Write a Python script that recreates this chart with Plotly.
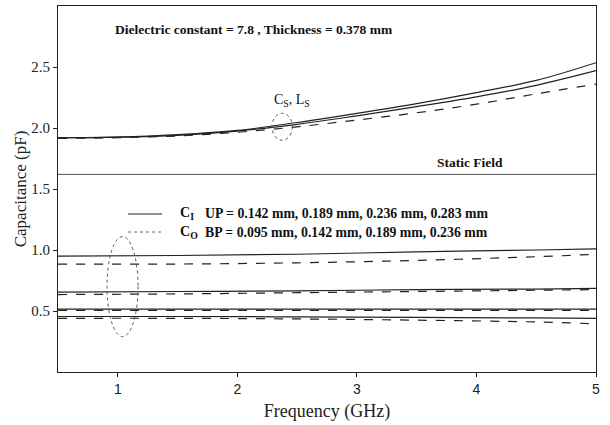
import plotly.graph_objects as go

# ---- data ----
freq_s = [0.5, 1.0, 1.5, 2.0, 2.5, 3.0, 3.5, 4.0, 4.5, 5.0]
cs_solid_1 = [1.92, 1.925, 1.945, 1.98, 2.045, 2.12, 2.20, 2.29, 2.39, 2.535]
cs_solid_2 = [1.92, 1.925, 1.94, 1.975, 2.03, 2.10, 2.175, 2.255, 2.35, 2.47]
cs_dashed = [1.915, 1.92, 1.935, 1.965, 2.01, 2.065, 2.125, 2.195, 2.28, 2.36]

freq_c = [0.5, 1.5, 2.5, 3.5, 4.5, 5.0]
ci_up_0142 = [0.95, 0.955, 0.965, 0.985, 1.0, 1.01]
ci_up_0189 = [0.655, 0.66, 0.665, 0.675, 0.68, 0.685]
ci_up_0236 = [0.515, 0.515, 0.515, 0.515, 0.515, 0.515]
ci_up_0283 = [0.455, 0.455, 0.452, 0.448, 0.443, 0.44]
co_bp_0095 = [0.885, 0.885, 0.895, 0.915, 0.945, 0.965]
co_bp_0142 = [0.635, 0.64, 0.65, 0.66, 0.67, 0.675]
co_bp_0189 = [0.505, 0.505, 0.505, 0.505, 0.505, 0.505]
co_bp_0236 = [0.44, 0.44, 0.435, 0.425, 0.41, 0.395]

static_field = 1.62
x_ticks = [1, 2, 3, 4, 5]
y_ticks = [0.5, 1.0, 1.5, 2.0, 2.5]

INK = "#222222"
SERIF = "Liberation Serif"

fig = go.Figure()

def add(x, y, dash):
    fig.add_trace(go.Scatter(x=x, y=y, mode="lines", showlegend=False,
                             line=dict(color=INK, width=1.2, dash=dash, shape="spline")))

add(freq_s, cs_solid_1, "solid")
add(freq_s, cs_solid_2, "solid")
add(freq_s, cs_dashed, "dash")
for s in [ci_up_0142, ci_up_0189, ci_up_0236, ci_up_0283]:
    add(freq_c, s, "solid")
for s in [co_bp_0095, co_bp_0142, co_bp_0189, co_bp_0236]:
    add(freq_c, s, "dash")

# static field separator
fig.add_shape(type="line", xref="paper", x0=0, x1=1, yref="y", y0=static_field, y1=static_field,
              line=dict(color="#555555", width=1))

# ellipses
fig.add_shape(type="circle", xref="x", yref="y", x0=2.29, x1=2.46, y0=1.90, y1=2.12,
              line=dict(color="#555555", width=1, dash="dot"))
fig.add_shape(type="circle", xref="x", yref="y", x0=0.91, x1=1.17, y0=0.29, y1=1.11,
              line=dict(color="#555555", width=1, dash="dot"))

# legend samples (paper coords)
def px_x(p):
    return (p - 58) / (596 - 58)

def px_y(p):
    return 1 - (p - 6) / (372 - 6)

fig.add_shape(type="line", xref="paper", yref="paper", x0=px_x(128), x1=px_x(162),
              y0=px_y(214), y1=px_y(214), line=dict(color=INK, width=1))
fig.add_shape(type="line", xref="paper", yref="paper", x0=px_x(128), x1=px_x(162),
              y0=px_y(232), y1=px_y(232), line=dict(color="#666666", width=1, dash="dot"))

def ann(text, x, y, size=13, bold=True, xanchor="left"):
    fig.add_annotation(text=("<b>%s</b>" % text) if bold else text, xref="paper", yref="paper",
                       x=px_x(x), y=px_y(y), xanchor=xanchor, yanchor="middle", showarrow=False,
                       font=dict(family=SERIF, size=size, color="#111111"))

ann("Dielectric constant = 7.8 , Thickness = 0.378 mm", 113, 30, size=13.5)
ann("Static Field", 470, 162, size=13.5, xanchor="center")
ann("C<sub>S</sub>, L<sub>S</sub>", 292, 100, size=14, bold=False, xanchor="center")
ann("C<sub>I</sub>", 178, 213, size=14)
ann("UP = 0.142 mm, 0.189 mm, 0.236 mm, 0.283 mm", 203, 213, size=13.8)
ann("C<sub>O</sub>", 178, 232, size=14)
ann("BP = 0.095 mm, 0.142 mm, 0.189 mm, 0.236 mm", 203, 232, size=13.8)

fig.update_layout(
    width=610, height=425,
    margin=dict(l=58, r=14, t=6, b=53),
    paper_bgcolor="white", plot_bgcolor="white",
    showlegend=False,
    xaxis=dict(range=[0.5, 5], tickvals=x_ticks, ticks="outside", ticklen=4, tickcolor=INK,
               showgrid=False, zeroline=False, showline=True, linecolor=INK, linewidth=1, mirror=True,
               tickfont=dict(family="Liberation Sans", size=14, color="#222222"),
               title=dict(text="Frequency (GHz)", font=dict(family=SERIF, size=18, color="#222222"),
                          standoff=8)),
    yaxis=dict(range=[0, 3], tickvals=y_ticks, ticktext=["0.5", "1.0", "1.5", "2.0", "2.5"],
               ticks="outside", ticklen=4, tickcolor=INK,
               showgrid=False, zeroline=False, showline=True, linecolor=INK, linewidth=1, mirror=True,
               tickfont=dict(family=SERIF, size=15, color="#222222"),
               title=dict(text="Capacitance (pF)", font=dict(family=SERIF, size=17, color="#222222"),
                          standoff=0)),
)

fig.write_html("out.html", config={"displayModeBar": False},
               post_script="document.body.style.margin='0px';")
